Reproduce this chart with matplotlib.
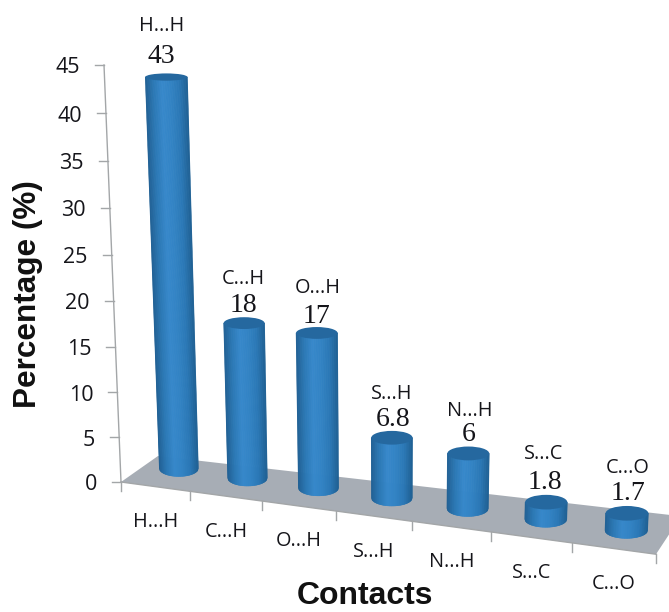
import numpy as np
import matplotlib
matplotlib.use("Agg")
import matplotlib.pyplot as plt
from matplotlib.collections import PolyCollection
from matplotlib.colors import LinearSegmentedColormap
from matplotlib.patches import Ellipse, Polygon

# --- data ---
categories = ["H...H", "C...H", "O...H", "S...H", "N...H", "S...C", "C...O"]
values = [43, 17.7, 17.7, 7.0, 6.4, 2.0, 2.0]
# numbers printed above the bars
value_labels = ["43", "18", "17", "6.8", "6", "1.8", "1.7"]
y_ticks = [0, 5, 10, 15, 20, 25, 30, 35, 40, 45]
y_title = "Percentage (%)"
x_title = "Contacts"

# --- layout of the text above the bars (pixel offsets from the bar top) ---
value_offsets = [(-5, -21), (-1, -18), (0, -16), (1, -18.5), (0, -18.5), (-1, -19.5), (1, -19.5)]
name_offsets = [(-5, -51), (-1, -44.5), (1, -44.5), (0, -43.5), (1, -42.5), (-3, -48.5), (1, -45.5)]

W, H = 669, 612
fig = plt.figure(figsize=(W / 100, H / 100), dpi=100)
ax = fig.add_axes([0, 0, 1, 1])
ax.set_xlim(0, W)
ax.set_ylim(H, 0)
ax.axis("off")

SANS = "Open Sans"
SERIF = "Liberation Serif"
HEAD = "Liberation Sans"
GREY = "#a3a6a8"
TXT = "#15151a"


# Hand-fitted perspective projection of the pseudo-3D chart
def front(t):
    x = 121 + 68.1 * t + 1.19 * t ** 2
    return x, 482 + 0.135 * (x - 121)


def wall_height(v):
    return 8.877 * v + 0.00867 * v ** 2


def bar_height(v):
    return 8.5 * v + 0.014 * v ** 2


def wall_x(v):
    return 121 - 17 * wall_height(v) / wall_height(45)


# floor
t_end = 7.0
xs0, ys0 = front(0)
xs1, ys1 = front(t_end)
ax.add_patch(Polygon([(xs0, ys0), (xs0 + 37, ys0 - 26), (xs1 + 25, ys1 - 38), (xs1, ys1)],
                     closed=True, fc="#a7adb5", ec="none", zorder=1))
ax.plot([xs0, xs1], [ys0, ys1], color=GREY, lw=1.0, zorder=2)

# y axis
ax.plot([wall_x(45), wall_x(0)], [482 - wall_height(45), 482], color=GREY, lw=1.0, zorder=2)
for v in y_ticks:
    yy = 482 - wall_height(v)
    xx = wall_x(v)
    ax.plot([xx - 9, xx], [yy, yy], color=GREY, lw=1.0, zorder=2)
    ax.text(xx - 24, yy + 3, str(v), ha="right", va="center", fontsize=15.5,
            family=SANS, color=TXT)

# x ticks
for t in range(8):
    xx, yy = front(t)
    ax.plot([xx, xx], [yy, yy + 9], color=GREY, lw=1.0, zorder=2)

# cylinders
cmap = LinearSegmentedColormap.from_list(
    "cyl", ["#205f93", "#2b78b5", "#3688cb", "#3283c4", "#2a78b6", "#1f6094"])
TOP = "#25689f"
for i, (cat, v, lab) in enumerate(zip(categories, values, value_labels)):
    t = i + 0.5
    fx, fy = front(t)
    bx = fx + (23.5 - 1.85 * i)
    by = fy - 18.2
    halfw = 19.5 + 0.3 * i
    h = bar_height(v)
    tx = bx - (390 - bx) / 6600 * h
    ty = by - h
    tw = halfw + 0.004 * h
    sb = 8.0
    st = 7.5 - 0.09 * v
    us = np.linspace(-1, 1, 61)
    polys, cols = [], []
    for a, b in zip(us[:-1], us[1:]):
        polys.append([
            (tx + a * tw, ty), (tx + b * tw, ty),
            (bx + b * halfw, by + sb * np.sqrt(1 - b ** 2)),
            (bx + a * halfw, by + sb * np.sqrt(1 - a ** 2)),
        ])
        cols.append(cmap((a + b) / 4 + 0.5))
    ax.add_collection(PolyCollection(polys, facecolors=cols, edgecolors=cols, linewidths=0.4, zorder=3 + i))
    ax.add_patch(Ellipse((tx, ty), 2 * tw, 2 * st, fc=TOP, ec="none", zorder=3.5 + i))
    # labels above the bar
    vdx, vdy = value_offsets[i]
    ndx, ndy = name_offsets[i]
    ax.text(tx + vdx, ty + vdy, lab, ha="center", va="center", fontsize=20, family=SERIF,
            color=TXT, zorder=20)
    ax.text(tx + ndx, ty + ndy, cat, ha="center", va="center", fontsize=14.3, family=SANS,
            color=TXT, zorder=20)
    # axis category label
    ax.text(fx, fy + 35.5, cat, ha="center", va="center", fontsize=14.3, family=SANS,
            color=TXT, zorder=20)

ax.text(28, 294, y_title, rotation=90, ha="center", va="center", fontsize=22.7,
        fontweight="bold", family=HEAD, color="#111111")
ax.text(365, 596.5, x_title, ha="center", va="center", fontsize=23,
        fontweight="bold", family=HEAD, color="#111111")

fig.savefig("out.png", dpi=100)
